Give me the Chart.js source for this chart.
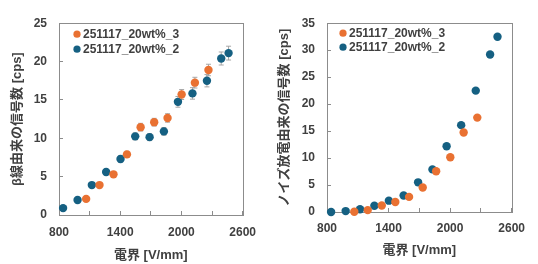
<!DOCTYPE html>
<html>
<head>
<meta charset="utf-8">
<script src="https://cdn.jsdelivr.net/npm/chart.js@4"></script>
<style>
  html, body { margin: 0; padding: 0; background: #fff; }
  #wrap { position: relative; width: 538px; height: 264px; }
  canvas { position: absolute; top: 0; }
</style>
</head>
<body>
<div id="wrap">
  <canvas id="betaCanvas" width="270" height="264" style="left:0px"></canvas>
  <canvas id="noiseCanvas" width="270" height="264" style="left:268px"></canvas>
</div>
<script>
// electric field [V/mm] of each measurement
let FieldOrange = [1066, 1197, 1334, 1466, 1600, 1733, 1864, 2002, 2132, 2265]
let FieldBlue = [840, 982, 1122, 1262, 1403, 1547, 1688, 1828, 1966, 2108, 2250, 2390, 2462]

// beta-ray signal rate [cps] + error
let BetaOrange = [2.1, 3.9, 5.3, 7.9, 11.45, 12.1, 12.65, 15.7, 17.25, 18.9]
let BetaOrangeErr = [0.2, 0.3, 0.35, 0.4, 0.5, 0.5, 0.55, 0.65, 0.7, 0.75]
let BetaBlue = [0.9, 1.95, 3.9, 5.6, 7.3, 10.25, 10.15, 10.9, 14.75, 15.85, 17.5, 20.4, 21.1]
let BetaBlueErr = [0.15, 0.2, 0.3, 0.35, 0.4, 0.45, 0.45, 0.5, 0.7, 0.75, 0.8, 0.85, 0.9]

// noise discharge signal rate [cps]
let NoiseOrange = [0.06, 0.35, 1.2, 1.85, 2.8, 4.55, 7.55, 10.15, 14.75, 17.5]
let NoiseBlue = [0, 0.17, 0.5, 1.15, 2.1, 3.05, 5.5, 7.9, 12.2, 16.1, 22.5, 29.2, 32.5]

let LabelOrange = "251117_20wt%_3"
let LabelBlue = "251117_20wt%_2"
let XTitle = "電界 [V/mm]"
let BetaTitle = "β線由来の信号数 [cps]"
let NoiseTitle = "ノイズ放電由来の信号数 [cps]"
let XTickLabels = [800, 1400, 2000, 2600]

const ORANGE = "#E97132"
const BLUE = "#156082"
const TEXT = "#404040"
const FRAME = "#8c8c8c"
const FONT = "'Liberation Sans', 'Noto Sans CJK JP', sans-serif"

function toPoints(xs, ys) {
    return xs.map((x, i) => ({ x: x, y: ys[i] }))
}

// frame (top + right) and error bars, behind the points
const framePlugin = {
    id: "frameErr",
    beforeDatasetsDraw(chart) {
        const ctx = chart.ctx
        const a = chart.chartArea
        ctx.save()
        ctx.strokeStyle = FRAME
        ctx.lineWidth = 1
        ctx.strokeRect(Math.round(a.left) + 0.5, Math.round(a.top) + 0.5, Math.round(a.right - a.left), Math.round(a.bottom - a.top))
        ctx.strokeStyle = "#a6a6a6"
        chart.data.datasets.forEach(ds => {
            if (!ds.errors) return
            ds.data.forEach((p, i) => {
                const x = chart.scales.x.getPixelForValue(p.x)
                const y1 = chart.scales.y.getPixelForValue(p.y + ds.errors[i])
                const y2 = chart.scales.y.getPixelForValue(p.y - ds.errors[i])
                ctx.beginPath()
                ctx.moveTo(x, y1); ctx.lineTo(x, y2)
                ctx.moveTo(x - 2.5, y1); ctx.lineTo(x + 2.5, y1)
                ctx.moveTo(x - 2.5, y2); ctx.lineTo(x + 2.5, y2)
                ctx.stroke()
            })
        })
        ctx.restore()
    }
}

// legend inside the plot, top left
const legendPlugin = {
    id: "innerLegend",
    afterDraw(chart, args, opts) {
        const ctx = chart.ctx
        const a = chart.chartArea
        ctx.save()
        ctx.font = "bold 12px " + FONT
        ctx.textBaseline = "middle"
        chart.data.datasets.forEach((ds, i) => {
            const cx = a.left + opts.dx
            const cy = a.top + opts.dy + i * opts.step
            ctx.fillStyle = ds.backgroundColor
            ctx.beginPath()
            ctx.arc(cx, cy, 3.6, 0, Math.PI * 2)
            ctx.fill()
            ctx.fillStyle = TEXT
            ctx.fillText(ds.label, cx + 6, cy + 0.5)
        })
        ctx.restore()
    }
}

function makeChart(id, orangeY, blueY, orangeErr, blueErr, yMax, yTitle, lay) {
    return new Chart(document.getElementById(id), {
        type: "scatter",
        data: {
            datasets: [
                { label: LabelOrange, data: toPoints(FieldOrange, orangeY), errors: orangeErr,
                  backgroundColor: ORANGE, borderWidth: 0, pointRadius: 4.2, clip: false },
                { label: LabelBlue, data: toPoints(FieldBlue, blueY), errors: blueErr,
                  backgroundColor: BLUE, borderWidth: 0, pointRadius: 4.2, clip: false }
            ]
        },
        options: {
            responsive: false,
            animation: false,
            layout: { padding: { left: 0, top: lay.top, right: lay.right, bottom: 0 } },
            plugins: {
                legend: { display: false },
                tooltip: { enabled: false },
                innerLegend: lay.legend
            },
            scales: {
                x: {
                    min: 800, max: 2600,
                    afterFit(s) { s.height = lay.xh },
                    afterBuildTicks(s) {
                        s.ticks = []
                        for (let v = 800; v <= 2600; v += 300) s.ticks.push({ value: v })
                    },
                    ticks: {
                        color: TEXT, padding: lay.xpad, maxRotation: 0, autoSkip: false,
                        font: { family: FONT, size: 12, weight: "bold" },
                        callback: v => XTickLabels.includes(v) ? v : ""
                    },
                    grid: { drawOnChartArea: false, tickLength: -4, color: FRAME },
                    border: { color: FRAME },
                    title: {
                        display: true, text: XTitle, color: TEXT,
                        font: { family: FONT, size: 13, weight: "bold" },
                        padding: { top: 0, bottom: lay.xtpad }
                    }
                },
                y: {
                    min: 0, max: yMax,
                    afterFit(s) { s.width = 59 },
                    ticks: {
                        stepSize: 5, color: TEXT, padding: 16,
                        font: { family: FONT, size: 12, weight: "bold" }
                    },
                    grid: { drawOnChartArea: false, tickLength: -4, color: FRAME },
                    border: { color: FRAME },
                    title: {
                        display: true, text: yTitle, color: TEXT,
                        font: { family: FONT, size: 13, weight: "bold" },
                        padding: { top: lay.ytpad, bottom: 0 }
                    }
                }
            }
        },
        plugins: [framePlugin, legendPlugin]
    })
}

window.addEventListener("DOMContentLoaded", () => {
    makeChart("betaCanvas", BetaOrange, BetaBlue, BetaOrangeErr, BetaBlueErr, 25, BetaTitle,
        { top: 13, right: 18, xh: 49, xpad: 14, xtpad: 1, ytpad: 10, legend: { dx: 18, dy: 11, step: 15 } })
    makeChart("noiseCanvas", NoiseOrange, NoiseBlue, null, null, 35, NoiseTitle,
        { top: 11, right: 20, xh: 52, xpad: 13, xtpad: 6, ytpad: 9, legend: { dx: 16, dy: 10, step: 14 } })
})
</script>
</body>
</html>
